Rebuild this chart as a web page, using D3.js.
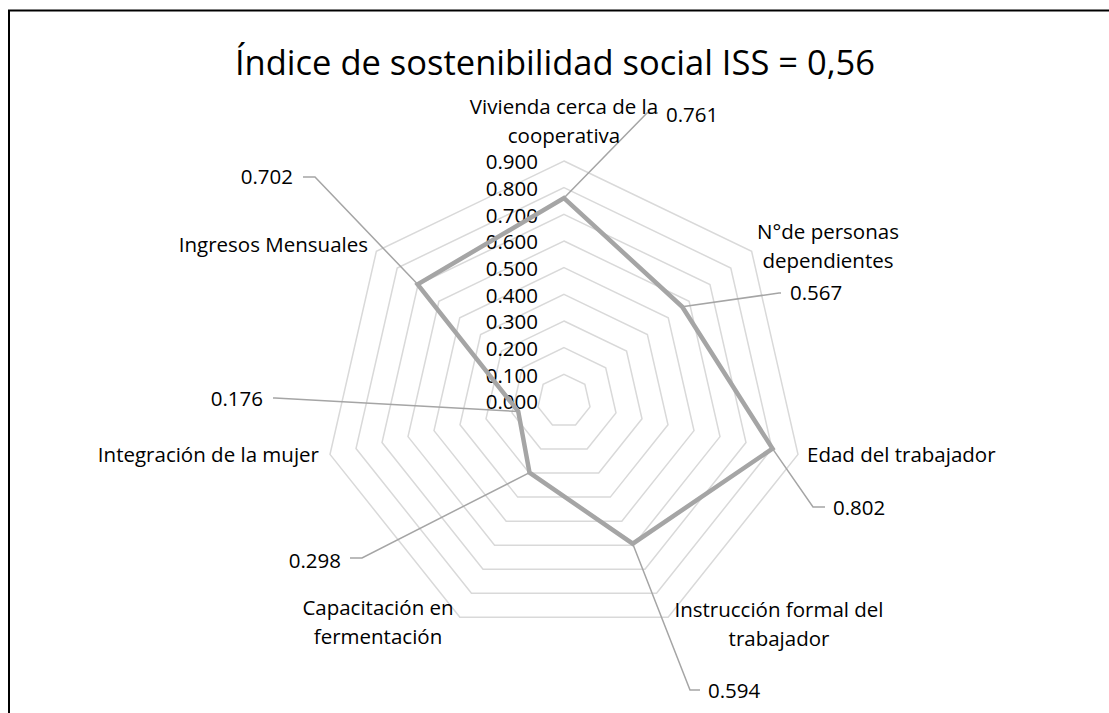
<!DOCTYPE html>
<html>
<head>
<meta charset="utf-8">
<script src="https://cdn.jsdelivr.net/npm/d3@7"></script>
<style>
  html, body { margin: 0; padding: 0; background: #fff; }
  svg { display: block; }
  text { font-family: "Open Sans", "Noto Sans", sans-serif; fill: #000; }
</style>
</head>
<body>
<svg id="chart" width="1109" height="713"></svg>
<script>
// ---- data ----
const title = "Índice de sostenibilidad social ISS = 0,56";
const categories = [
  ["Vivienda cerca de la", "cooperativa"],
  ["N°de personas", "dependientes"],
  ["Edad del trabajador"],
  ["Instrucción formal del", "trabajador"],
  ["Capacitación en", "fermentación"],
  ["Integración de la mujer"],
  ["Ingresos Mensuales"]
];
const values = [0.761, 0.567, 0.802, 0.594, 0.298, 0.176, 0.702];
const tickValues = [0, 0.1, 0.2, 0.3, 0.4, 0.5, 0.6, 0.7, 0.8, 0.9];

// ---- layout (label placement, as in the original) ----
const catLabelLayout = [
  { x: 564, y: 107, anchor: "middle" },
  { x: 828, y: 232, anchor: "middle" },
  { x: 807, y: 455, anchor: "start" },
  { x: 779, y: 610, anchor: "middle" },
  { x: 378, y: 608, anchor: "middle" },
  { x: 319, y: 455, anchor: "end" },
  { x: 368, y: 245, anchor: "end" }
];
// elbow points for leader lines and label anchors
const valueLabelLayout = [
  { elbow: [647, 113], end: [658, 113], tx: 666, ty: 115, anchor: "start" },
  { elbow: [779, 293], end: [781, 293], tx: 790, ty: 293, anchor: "start" },
  { elbow: [813, 507], end: [825, 507], tx: 833, ty: 508, anchor: "start" },
  { elbow: [690, 690], end: [700, 690], tx: 708, ty: 691, anchor: "start" },
  { elbow: [362, 558], end: [350, 558], tx: 341, ty: 561, anchor: "end" },
  { elbow: [275, 398], end: [273, 398], tx: 263, ty: 399, anchor: "end" },
  { elbow: [315, 177], end: [303, 177], tx: 293, ty: 177, anchor: "end" }
];

const svg = d3.select("#chart");
const cx = 564, cy = 401;
const rScale = d3.scaleLinear().domain([0, 0.9]).range([0, 240]);
const n = categories.length;
const angle = d3.scaleLinear().domain([0, n]).range([0, 2 * Math.PI]);
const fontSize = 20.5;

// frame
svg.append("rect")
  .attr("x", 9).attr("y", 10.5)
  .attr("width", 1130).attr("height", 740)
  .attr("fill", "none").attr("stroke", "#000").attr("stroke-width", 2);

// title
svg.append("text")
  .attr("x", 555).attr("y", 75)
  .attr("text-anchor", "middle")
  .attr("font-size", 34.5)
  .text(title);

const g = svg.append("g").attr("transform", `translate(${cx},${cy})`);

function pt(i, v) {
  const a = angle(i);
  const r = rScale(v);
  return [r * Math.sin(a), -r * Math.cos(a)];
}

// grid rings
const line = d3.line().curve(d3.curveLinearClosed);
g.selectAll("path.ring")
  .data(tickValues.filter(v => v > 0))
  .join("path")
  .attr("class", "ring")
  .attr("d", v => line(d3.range(n).map(i => pt(i, v))))
  .attr("fill", "none")
  .attr("stroke", "#D9D9D9")
  .attr("stroke-width", 1.5);

// tick labels
g.selectAll("text.tick")
  .data(tickValues)
  .join("text")
  .attr("class", "tick")
  .attr("x", -26)
  .attr("y", v => -rScale(v) + 1)
  .attr("dy", "0.35em")
  .attr("text-anchor", "end")
  .attr("font-size", fontSize)
  .text(v => d3.format(".3f")(v));

// leader lines
valueLabelLayout.forEach((L, i) => {
  const p = pt(i, values[i]);
  svg.append("path")
    .attr("d", d3.line()([[cx + p[0], cy + p[1]], L.elbow, L.end]))
    .attr("fill", "none")
    .attr("stroke", "#A5A5A5")
    .attr("stroke-width", 1.5);
});

// data polygon
g.append("path")
  .attr("d", line(values.map((v, i) => pt(i, v))))
  .attr("fill", "none")
  .attr("stroke", "#A5A5A5")
  .attr("stroke-width", 4.5)
  .attr("stroke-linejoin", "miter");

// value labels
svg.selectAll("text.val")
  .data(values)
  .join("text")
  .attr("class", "val")
  .attr("x", (d, i) => valueLabelLayout[i].tx)
  .attr("y", (d, i) => valueLabelLayout[i].ty)
  .attr("dy", "0.35em")
  .attr("text-anchor", (d, i) => valueLabelLayout[i].anchor)
  .attr("font-size", fontSize)
  .text(d => d3.format(".3f")(d));

// category labels
categories.forEach((lines, i) => {
  const L = catLabelLayout[i];
  const t = svg.append("text")
    .attr("text-anchor", L.anchor)
    .attr("font-size", fontSize);
  lines.forEach((s, k) => {
    t.append("tspan")
      .attr("x", L.x)
      .attr("y", L.y + k * 29)
      .attr("dy", "0.35em")
      .text(s);
  });
});
</script>
</body>
</html>
